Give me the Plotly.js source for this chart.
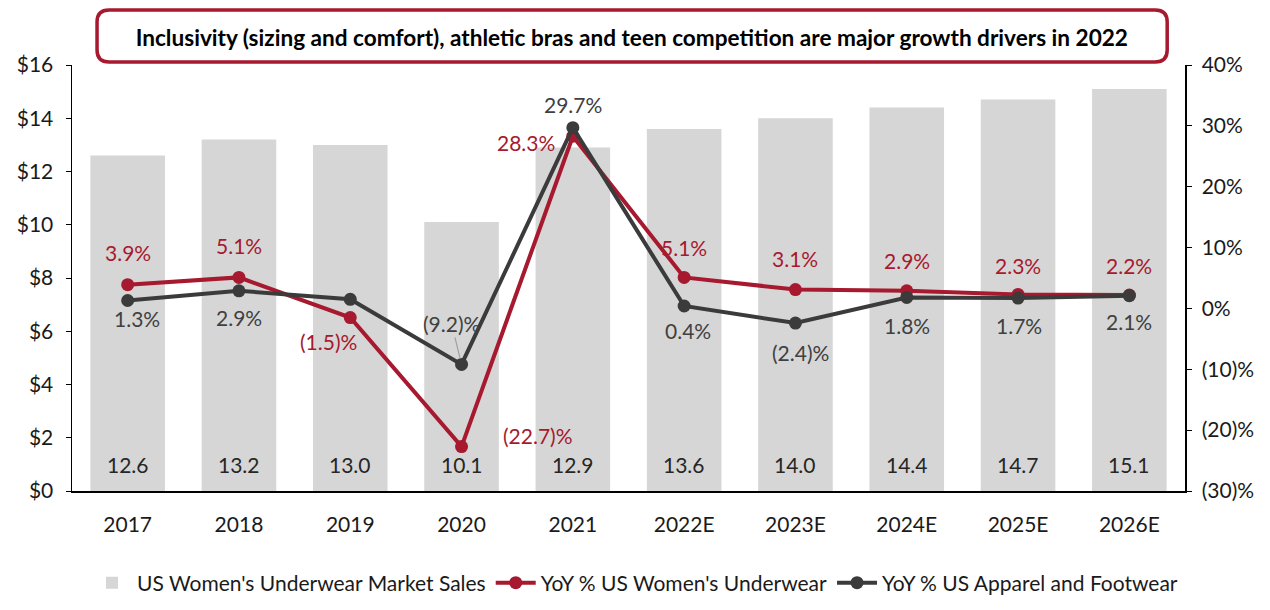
<!DOCTYPE html>
<html><head><meta charset="utf-8">
<script src="https://cdn.plot.ly/plotly-3.0.1.min.js"></script>
<style>html,body{margin:0;padding:0;background:#fff}#chart{width:1270px;height:610px}</style>
</head><body><div id="chart"></div>
<script>
const categories = ["2017","2018","2019","2020","2021","2022E","2023E","2024E","2025E","2026E"];
const marketSales = [12.6, 13.2, 13.0, 10.1, 12.9, 13.6, 14.0, 14.4, 14.7, 15.1];
const yoyUnderwear = [3.9, 5.1, -1.5, -22.7, 28.3, 5.1, 3.1, 2.9, 2.3, 2.2];
const yoyApparel = [1.3, 2.9, 1.5, -9.2, 29.7, 0.4, -2.4, 1.8, 1.7, 2.1];
const leftTicks = [0, 2, 4, 6, 8, 10, 12, 14, 16];
const rightTicks = [-30, -20, -10, 0, 10, 20, 30, 40];

// label offsets (pixels) for point labels
const redOff = [[0,32],[0,32],[-22,-24],[76,11],[-47,-6],[0,30],[0,31],[0,30],[0,29],[0,30]];
const darkOff = [[9,-18],[0,-27],null,[-10,41],[0,23],[4,-25],[5,-29],[0,-28],[1,-27],[0,-26]];

const RED = '#a6192e', DARK = '#3b3b3b', GRAY = '#d6d6d6';
const FONT = 'Lato, "Open Sans", sans-serif';
const FS = 21;
function pct(v){ return v < 0 ? '(' + Math.abs(v).toFixed(1) + ')%' : v.toFixed(1) + '%'; }
function pctTick(v){ return v < 0 ? '(' + Math.abs(v) + ')%' : v + '%'; }

const idx = categories.map((c,i)=>i);

const traces = [
  {type:'bar', x:idx, y:marketSales, name:"US Women's Underwear Market Sales",
   marker:{color:GRAY}, yaxis:'y', hoverinfo:'skip'},
  {type:'scatter', mode:'lines+markers', x:idx, y:yoyUnderwear, yaxis:'y2',
   name:"YoY % US Women's Underwear", line:{color:RED, width:4}, marker:{color:RED, size:13}},
  {type:'scatter', mode:'lines+markers', x:idx, y:yoyApparel, yaxis:'y2',
   name:"YoY % US Apparel and Footwear", line:{color:DARK, width:4}, marker:{color:DARK, size:13}}
];

const annotations = [];
idx.forEach(i=>{
  annotations.push({x:i, y:1.0, xref:'x', yref:'y', text:marketSales[i].toFixed(1), showarrow:false,
    font:{family:FONT, size:FS, color:'#262626'}});
  annotations.push({x:i, y:yoyUnderwear[i], xref:'x', yref:'y2', text:pct(yoyUnderwear[i]), showarrow:false,
    xshift:redOff[i][0], yshift:redOff[i][1], font:{family:FONT, size:FS, color:RED}});
  if (darkOff[i]) {
    if (i === 3) {
      annotations.push({x:i, y:yoyApparel[i], xref:'x', yref:'y2', text:pct(yoyApparel[i]), showarrow:true,
        arrowhead:0, arrowwidth:1.2, arrowcolor:'#a0a0a0', ax:darkOff[i][0], ay:-darkOff[i][1], standoff:6,
        font:{family:FONT, size:FS, color:'#404040'}});
    } else {
      annotations.push({x:i, y:yoyApparel[i], xref:'x', yref:'y2', text:pct(yoyApparel[i]), showarrow:false,
        xshift:darkOff[i][0], yshift:darkOff[i][1], font:{family:FONT, size:FS, color:'#404040'}});
    }
  }
});

const rx = 12/1113, ry = 12/426;
const x0 = 0.0225, x1 = 0.984, y0 = 1.007, y1 = 1.129;
const boxPath = `M ${x0+rx},${y1} L ${x1-rx},${y1} Q ${x1},${y1} ${x1},${y1-ry} L ${x1},${y0+ry} Q ${x1},${y0} ${x1-rx},${y0} L ${x0+rx},${y0} Q ${x0},${y0} ${x0},${y0+ry} L ${x0},${y1-ry} Q ${x0},${y1} ${x0+rx},${y1} Z`;

const layout = {
  width:1270, height:610,
  margin:{l:72, r:85, t:65, b:119},
  paper_bgcolor:'#fff', plot_bgcolor:'#fff',
  font:{family:FONT, size:FS, color:'#1a1a1a'},
  showlegend:true,
  legend:{orientation:'h', x:0.5, xref:'container', xanchor:'center', y:1-583/610, yref:'container', yanchor:'middle',
    font:{family:FONT, size:21, color:'#1a1a1a'}, traceorder:'normal', itemwidth:40},
  bargap:0.33,
  title:{text:'<b>Inclusivity (sizing and comfort), athletic bras and teen competition are major growth drivers in 2022</b>',
    x:0.503, xref:'paper', xanchor:'center', y:1-38/610, yref:'container', yanchor:'middle',
    font:{family:FONT, size:22.6, color:'#000'}},
  xaxis:{range:[-0.5, 9.5], tickvals:idx, ticktext:categories, showline:true, linecolor:'#000', linewidth:1.5,
    ticks:'', showgrid:false, zeroline:false, automargin:false, ticklabelstandoff:14,
    tickfont:{family:FONT, size:FS, color:'#1a1a1a'}},
  yaxis:{range:[0,16], tickvals:leftTicks, ticktext:leftTicks.map(v=>'$'+v), showline:true, linecolor:'#000',
    linewidth:1.5, ticks:'outside', ticklen:5, tickcolor:'#000', showgrid:false, zeroline:false, automargin:false,
    ticklabelstandoff:8, tickfont:{family:FONT, size:FS, color:'#1a1a1a'}},
  yaxis2:{range:[-30,40], overlaying:'y', side:'right', tickvals:rightTicks, ticktext:rightTicks.map(pctTick),
    showline:true, linecolor:'#000', linewidth:1.5, ticks:'outside', ticklen:5, tickcolor:'#000', automargin:false,
    ticklabelstandoff:6, showgrid:false, zeroline:false, tickfont:{family:FONT, size:FS, color:'#1a1a1a'}},
  shapes:[{type:'path', xref:'paper', yref:'paper', path:boxPath, line:{color:RED, width:3.5}, fillcolor:'#fff', layer:'above'}],
  annotations:annotations
};

Plotly.newPlot('chart', traces, layout, {displayModeBar:false, staticPlot:true});
</script></body></html>
